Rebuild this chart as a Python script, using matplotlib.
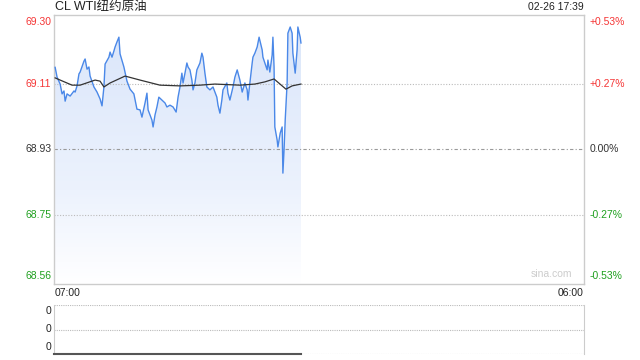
import numpy as np
import matplotlib.pyplot as plt
from matplotlib.colors import LinearSegmentedColormap
from matplotlib.patches import Polygon

plt.rcParams['font.family'] = ['Liberation Sans', 'Noto Sans CJK SC', 'DejaVu Sans']

# Data (minutes after 07:00, price)
minutes = [3, 8, 16, 21, 26, 29, 34, 42, 52, 55, 60, 65, 68, 78, 81, 86, 91, 94, 104,
           112, 120, 125, 130, 133, 143, 146, 151, 156, 159, 164, 169, 172, 182, 190,
           198, 208, 216, 224, 229, 237, 242, 245, 255,
           258, 263, 268, 273, 281, 289, 294, 302, 310, 318, 323, 328, 333, 336, 341, 346,
           349, 354, 359, 362, 367, 372, 380, 385, 388, 393, 398, 406, 414, 424, 427, 432,
           437, 440, 450, 453, 458, 466, 471, 477, 484, 490, 497, 503, 505, 510, 516, 518,
           523, 529, 534, 542, 544, 549, 555, 557, 562, 568, 570, 573, 575, 581, 583, 589,
           594, 596, 599, 602, 607, 609, 615, 620, 622, 628, 633, 635, 641, 643]
prices = [69.156, 69.129, 69.110, 69.083, 69.091, 69.063, 69.083, 69.077, 69.091, 69.088,
          69.105, 69.138, 69.143, 69.173, 69.179, 69.151, 69.157, 69.132, 69.102, 69.088,
          69.069, 69.050, 69.102, 69.165, 69.184, 69.198, 69.184, 69.201, 69.212, 69.226,
          69.239, 69.193, 69.157, 69.118, 69.096, 69.083, 69.041,
          69.039, 69.019,
          69.058, 69.085, 69.039, 69.011, 68.992, 69.025, 69.047, 69.074, 69.066, 69.058,
          69.047, 69.052, 69.047, 69.033, 69.074, 69.102, 69.140, 69.113, 69.140, 69.168,
          69.157, 69.149, 69.121, 69.094, 69.113, 69.149, 69.168, 69.195, 69.184, 69.140,
          69.102, 69.094, 69.102, 69.074, 69.052, 69.030, 69.066, 69.094, 69.113, 69.085,
          69.066, 69.102, 69.129, 69.149, 69.121, 69.088, 69.113, 69.094, 69.066, 69.113,
          69.168, 69.184, 69.195, 69.212, 69.239, 69.204, 69.184, 69.168, 69.149, 69.176,
          69.143, 69.190, 69.239, 69.157, 68.992, 68.956, 68.937, 68.975, 68.992, 68.865,
          68.929, 69.011, 69.113, 69.250, 69.267, 69.250, 69.195, 69.140, 69.204, 69.267,
          69.239, 69.223]

avg_minutes = [3, 16, 47, 68, 107, 120, 130, 146, 185, 224, 276, 328, 380, 419, 484,
               523, 549, 573, 604, 620, 643]
avg_prices = [69.127, 69.121, 69.107, 69.107, 69.121, 69.118, 69.102, 69.113, 69.132,
              69.121, 69.107, 69.105, 69.107, 69.110, 69.107, 69.110, 69.116, 69.124,
              69.096, 69.105, 69.110]

vol_minutes = [0, 643]
vol_values = [0, 0]

prev_close = 68.93
y_ticks = [69.30, 69.11, 68.93, 68.75, 68.56]
pct_labels = ['+0.53%', '+0.27%', '0.00%', '-0.27%', '-0.53%']
tick_colors = ['#f53535', '#f53535', '#333333', '#1fa01f', '#1fa01f']
total_min = 1380

fig = plt.figure(figsize=(6.4, 3.6), dpi=100)
ax = fig.add_axes([54/640, 76/360, 530/640, 269/360])
vax = fig.add_axes([54/640, 6/360, 530/640, 49/360])

ymin, ymax = 68.56, 69.30
ax.set_xlim(0, total_min)
ax.set_ylim(ymin, ymax)

# gradient fill under the price line
verts = [(minutes[0], ymin)] + list(zip(minutes, prices)) + [(minutes[-1], ymin)]
poly = Polygon(verts, closed=True, facecolor='none', edgecolor='none')
ax.add_patch(poly)
cmap = LinearSegmentedColormap.from_list(
    'fade', [(0, '#ffffff'), (0.08, '#fbfcff'), (0.35, '#ecf2fd'), (1, '#d9e5fa')])
grad = np.linspace(0, 1, 256).reshape(-1, 1)
im = ax.imshow(grad, cmap=cmap, aspect='auto', origin='lower',
               extent=[minutes[0], minutes[-1], ymin, ymax], zorder=1)
im.set_clip_path(poly)

# grid lines
ax.axhline(69.11, color='#bbbbbb', lw=0.8, ls=(0, (1, 1.5)), zorder=2)
ax.axhline(68.75, color='#bbbbbb', lw=0.8, ls=(0, (1, 1.5)), zorder=2)
ax.axhline(prev_close, color='#999999', lw=0.8, ls=(0, (3, 2, 1, 2)), zorder=2)

ax.plot(minutes, prices, color='#4a88e8', lw=1.0, zorder=3)
ax.plot(avg_minutes, avg_prices, color='#333333', lw=0.9, zorder=4)

for s in ax.spines.values():
    s.set_color('#cccccc')
    s.set_linewidth(1)
ax.set_xticks([])
ax.set_yticks([])

# price / percent labels
offsets = [-5, 0, 0, 0, 6]
for val, pct, col, off in zip(y_ticks, pct_labels, tick_colors, offsets):
    ax.annotate(f'{val:.2f}', xy=(0, val), xycoords=('axes fraction', 'data'),
                xytext=(-2, off), textcoords='offset points', ha='right', va='center',
                fontsize=7.5, color=col)
    ax.annotate(pct, xy=(1, val), xycoords=('axes fraction', 'data'),
                xytext=(4, off), textcoords='offset points', ha='left', va='center',
                fontsize=7.5, color=col)

fig.text(55/640, 1 - 7/360, 'CL WTI纽约原油', ha='left', va='center', fontsize=9, color='#222222')
fig.text(584/640, 1 - 7/360, '02-26 17:39', ha='right', va='center', fontsize=7.5, color='#222222')
fig.text(55/640, 1 - 293/360, '07:00', ha='left', va='center', fontsize=7.5, color='#222222')
fig.text(584/640, 1 - 293/360, '06:00', ha='right', va='center', fontsize=7.5, color='#222222')
ax.text(0.977, 0.02, 'sina.com', transform=ax.transAxes, ha='right', va='bottom',
        fontsize=7.5, color='#cccccc')

# volume panel
vax.set_xlim(0, total_min)
vax.set_ylim(0, 1)
vax.plot(vol_minutes, vol_values, color='#555555', lw=1.5, zorder=3, clip_on=False)
for yv in [1, 0.5, 0]:
    vax.axhline(yv, color='#bbbbbb', lw=0.8, ls=(0, (1, 1)), zorder=2)
vax.spines['top'].set_visible(False)
vax.spines['bottom'].set_visible(False)
for side in ['left', 'right']:
    vax.spines[side].set_color('#cccccc')
vax.set_xticks([])
vax.set_yticks([])
for yv, off in zip([1, 0.5, 0], [-4, 0, 5]):
    vax.annotate('0', xy=(0, yv), xycoords=('axes fraction', 'data'), xytext=(-2, off),
                 textcoords='offset points', ha='right', va='center', fontsize=7.5,
                 color='#222222')

fig.savefig('out.png', dpi=100)
